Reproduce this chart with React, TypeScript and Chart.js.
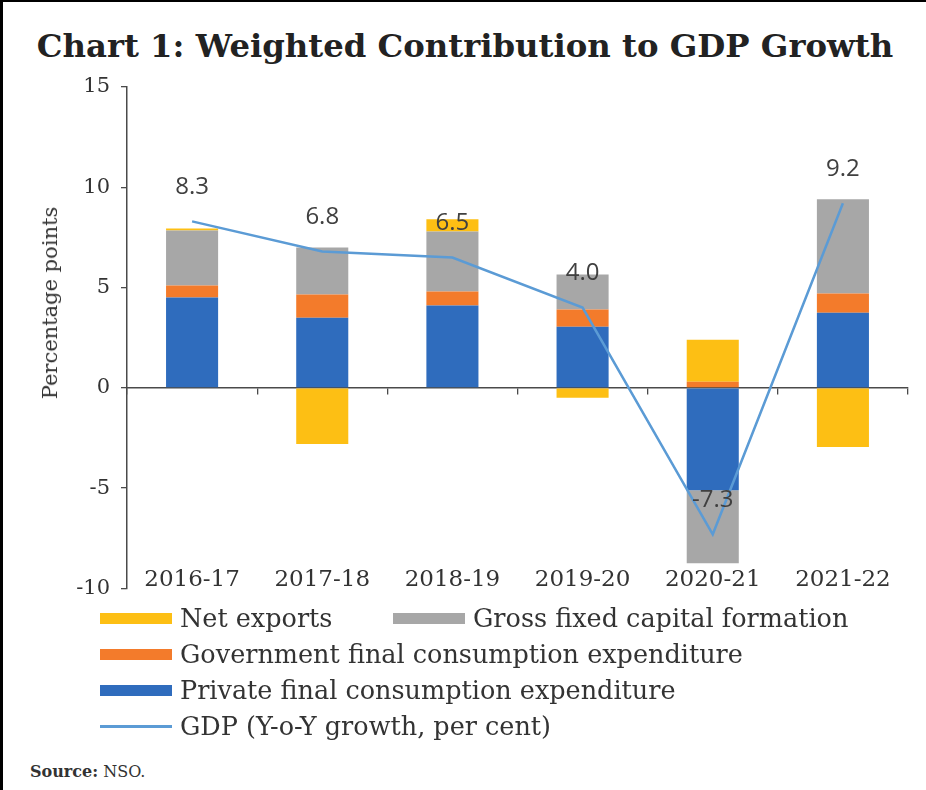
import React, { useEffect, useRef } from 'react';
import { Chart, registerables } from 'chart.js';

Chart.register(...registerables);

const categories = ['2016-17', '2017-18', '2018-19', '2019-20', '2020-21', '2021-22'];
const privateConsumption = [4.5, 3.5, 4.1, 3.05, -5.1, 3.75];
const governmentConsumption = [0.6, 1.15, 0.7, 0.85, 0.3, 0.95];
const grossFixedCapital = [2.75, 2.35, 3.0, 1.75, -3.65, 4.7];
const netExports = [0.1, -2.8, 0.6, -0.5, 2.1, -2.95];
const gdpGrowth = [8.3, 6.8, 6.5, 4.0, -7.3, 9.2];
const yTicks = [-10, -5, 0, 5, 10, 15];

const TITLE = 'Chart 1: Weighted Contribution to GDP Growth';
const Y_TITLE = 'Percentage points';
const NAME_NET = 'Net exports';
const NAME_GFCF = 'Gross fixed capital formation';
const NAME_GOV = 'Government final consumption expenditure';
const NAME_PRIV = 'Private final consumption expenditure';
const NAME_GDP = 'GDP (Y-o-Y growth, per cent)';

const BLUE = '#2F6CBD';
const ORANGE = '#F37B2B';
const GRAY = '#A7A7A7';
const YELLOW = '#FDBF14';
const LINE = '#5B9BD5';
const AXIS = '#4a4a4a';
const TEXT = '#333333';
const SERIF = '"DejaVu Serif", serif';

const legendRows: { name: string; color: string; kind: 'bar' | 'line' }[][] = [
  [
    { name: NAME_NET, color: YELLOW, kind: 'bar' },
    { name: NAME_GFCF, color: GRAY, kind: 'bar' },
  ],
  [{ name: NAME_GOV, color: ORANGE, kind: 'bar' }],
  [{ name: NAME_PRIV, color: BLUE, kind: 'bar' }],
  [{ name: NAME_GDP, color: LINE, kind: 'line' }],
];

export default function App() {
  const canvasRef = useRef<HTMLCanvasElement | null>(null);

  useEffect(() => {
    document.body.style.margin = '0';
    const canvas = canvasRef.current;
    if (!canvas) return;

    const gdpLabels = {
      id: 'gdpLabels',
      afterDatasetsDraw(chart: any) {
        const meta = chart.getDatasetMeta(0);
        const ctx = chart.ctx;
        ctx.save();
        ctx.font = '24px "Open Sans", sans-serif';
        ctx.fillStyle = '#404040';
        ctx.textAlign = 'center';
        ctx.textBaseline = 'middle';
        meta.data.forEach((pt: any, i: number) => {
          ctx.fillText(gdpGrowth[i].toFixed(1), pt.x, pt.y - 34);
        });
        ctx.restore();
      },
    };

    const chart = new Chart(canvas, {
      type: 'bar',
      data: {
        labels: categories,
        datasets: [
          {
            type: 'line',
            label: NAME_GDP,
            data: gdpGrowth,
            borderColor: LINE,
            backgroundColor: LINE,
            borderWidth: 2.5,
            pointRadius: 0,
            fill: false,
            tension: 0,
            stack: 'gdp',
            order: 0,
          } as any,
          { label: NAME_PRIV, data: privateConsumption, backgroundColor: BLUE, stack: 'c', order: 1 },
          { label: NAME_GOV, data: governmentConsumption, backgroundColor: ORANGE, stack: 'c', order: 1 },
          { label: NAME_GFCF, data: grossFixedCapital, backgroundColor: GRAY, stack: 'c', order: 1 },
          { label: NAME_NET, data: netExports, backgroundColor: YELLOW, stack: 'c', order: 1 },
        ],
      },
      options: {
        animation: false,
        responsive: false,
        maintainAspectRatio: false,
        layout: { padding: { top: 27, right: 18, left: 0, bottom: 14 } },
        plugins: { legend: { display: false }, tooltip: { enabled: false } },
        datasets: { bar: { barPercentage: 0.4, categoryPercentage: 1 } },
        scales: {
          x: {
            stacked: true,
            position: { y: -10 },
            grid: { display: false, drawTicks: false },
            border: { display: false },
            ticks: {
              font: { family: SERIF, size: 23 },
              color: TEXT,
              padding: -22,
              maxRotation: 0,
              autoSkip: false,
            },
          } as any,
          x0: {
            type: 'category',
            position: { y: 0 },
            offset: true,
            grid: { offset: true, drawOnChartArea: false, drawTicks: true, tickLength: 6, color: AXIS, lineWidth: 1.3 },
            border: { color: AXIS, width: 1.5 },
            ticks: { display: false },
          } as any,
          y: {
            stacked: true,
            min: -10,
            max: 15,
            afterBuildTicks: (s: any) => {
              s.ticks = yTicks.map((v) => ({ value: v }));
            },
            grid: { drawOnChartArea: false, tickLength: 6, color: AXIS, lineWidth: 1.3 },
            border: { color: AXIS, width: 1.5 },
            ticks: { padding: 11, font: { family: SERIF, size: 21 }, color: TEXT },
            afterFit: (s: any) => {
              s.width = 127;
            },
          },
        },
      },
      plugins: [gdpLabels],
    } as any);

    return () => chart.destroy();
  }, []);

  return (
    <div style={{ position: 'absolute', left: 0, top: 0, width: 926, height: 790, background: '#fff', overflow: 'hidden' }}>
      <div
        style={{
          position: 'absolute',
          left: 0,
          width: 930,
          top: 28,
          textAlign: 'center',
          fontFamily: SERIF,
          fontWeight: 'bold',
          fontSize: 32.3,
          lineHeight: '36px',
          color: '#222',
          whiteSpace: 'nowrap',
        }}
      >
        {TITLE}
      </div>
      <canvas ref={canvasRef} width={926} height={552} style={{ position: 'absolute', left: 0, top: 60, width: 926, height: 552 }} />
      <div
        style={{
          position: 'absolute',
          left: 50,
          top: 303,
          transform: 'translate(-50%, -50%) rotate(-90deg)',
          fontFamily: SERIF,
          fontSize: 21,
          color: TEXT,
          whiteSpace: 'nowrap',
          lineHeight: '24px',
        }}
      >
        {Y_TITLE}
      </div>
      {legendRows.map((row, r) => (
        <div key={r} style={{ position: 'absolute', left: 0, top: 600 + r * 36, height: 36, width: 926 }}>
          {row.map((item, k) => (
            <div
              key={item.name}
              style={{
                position: 'absolute',
                left: k === 0 ? 100 : 393,
                top: 0,
                height: 36,
                display: 'flex',
                alignItems: 'center',
                whiteSpace: 'nowrap',
              }}
            >
              <span
                style={{
                  display: 'inline-block',
                  width: 72,
                  height: item.kind === 'line' ? 3 : 11,
                  background: item.color,
                  marginRight: 8,
                }}
              />
              <span style={{ fontFamily: SERIF, fontSize: 25.5, color: TEXT }}>{item.name}</span>
            </div>
          ))}
        </div>
      ))}
      <div style={{ position: 'absolute', left: 30, top: 762, fontFamily: SERIF, fontSize: 16, color: TEXT, whiteSpace: 'nowrap' }}>
        <b>Source:</b> NSO.
      </div>
      <div style={{ position: 'absolute', left: 0, top: 0, width: 926, height: 2, background: '#000' }} />
      <div style={{ position: 'absolute', left: 0, top: 0, width: 3, height: 790, background: '#000' }} />
    </div>
  );
}
